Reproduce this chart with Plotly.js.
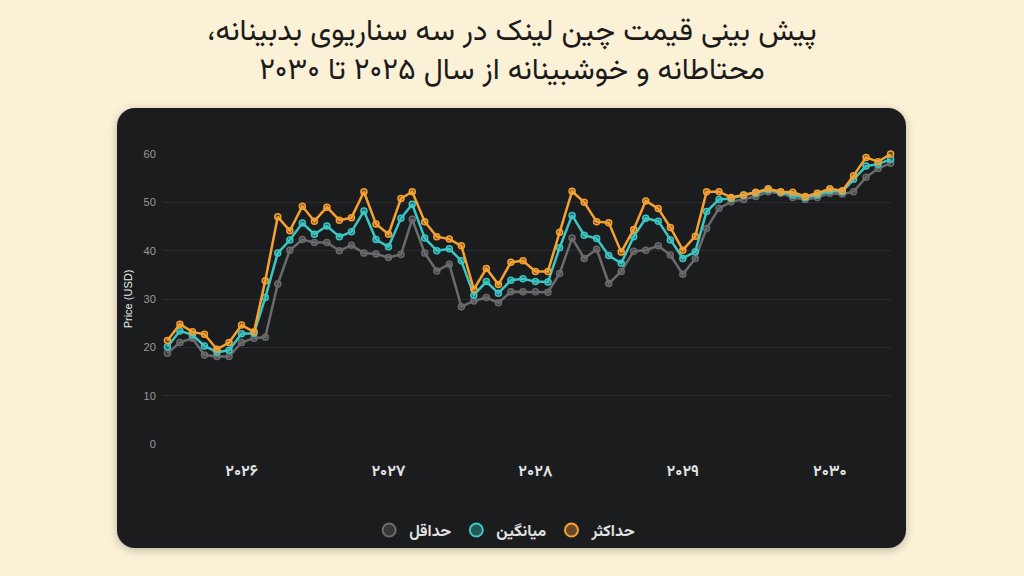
<!DOCTYPE html>
<html>
<head>
<meta charset="utf-8">
<script src="https://cdn.plot.ly/plotly-3.0.1.min.js"></script>
<style>
  html, body { margin: 0; padding: 0; background: #fbf1d6; }
  #wrap { position: relative; width: 1024px; height: 576px; }
  #card {
    position: absolute; left: 117px; top: 108px; width: 789px; height: 440px;
    background: #1b1c1e; border-radius: 18px;
    box-shadow: 0 2px 8px rgba(0,0,0,0.25);
  }
  #chart { position: absolute; left: 0; top: 0; width: 1024px; height: 576px; }
</style>
</head>
<body>
<div id="wrap">
  <div id="card"></div>
  <div id="chart"></div>
</div>
<script>
// monthly forecast, Jul 2025 - Jun 2030
var months = [];
for (let y = 2025; y <= 2030; y++) {
    for (let m = 1; m <= 12; m++) {
        if ((y == 2025 && m < 7) || (y == 2030 && m > 6)) continue;
        months.push(y + "-" + (m < 10 ? "0" + m : m) + "-01");
    }
}

var minPrice = [18.8, 21.0, 21.9, 18.4, 18.1, 18.1, 21.0, 21.9, 22.1, 33.1,
    40.1, 42.3, 41.7, 41.7, 40.0, 41.1, 39.5, 39.3, 38.6, 39.2,
    46.5, 39.5, 35.8, 37.2, 28.4, 29.6, 30.3, 29.2, 31.5, 31.5,
    31.5, 31.4, 35.3, 42.6, 38.4, 40.3, 33.2, 35.7, 39.9, 40.1,
    41.0, 39.1, 35.1, 38.4, 44.6, 48.8, 50.1, 50.6, 51.2, 52.2,
    51.9, 51.0, 50.6, 51.0, 51.9, 51.7, 52.2, 55.2, 57.0, 58.1];

var avgPrice = [20.1, 23.4, 22.6, 20.3, 19.0, 19.4, 22.8, 22.9, 30.3, 39.5,
    42.2, 45.7, 43.4, 45.1, 42.9, 43.9, 48.2, 42.3, 40.8, 46.7,
    49.6, 42.6, 40.0, 40.4, 37.9, 30.8, 33.6, 31.2, 33.9, 34.2,
    33.6, 33.5, 40.6, 47.3, 43.2, 42.5, 39.0, 37.4, 42.9, 46.7,
    46.1, 42.2, 38.4, 39.8, 48.1, 50.6, 50.8, 51.5, 51.9, 52.6,
    52.1, 51.5, 51.0, 51.5, 52.4, 52.2, 54.8, 57.5, 57.9, 58.9];

var maxPrice = [21.4, 24.8, 23.2, 22.7, 19.6, 21.0, 24.6, 23.2, 33.8, 47.0,
    44.1, 49.2, 46.1, 49.0, 46.3, 46.8, 52.2, 45.5, 43.4, 50.8,
    52.2, 46.0, 42.9, 42.4, 41.0, 32.0, 36.3, 33.0, 37.6, 37.9,
    35.7, 35.7, 43.8, 52.3, 50.0, 46.0, 45.8, 39.7, 44.4, 50.3,
    48.7, 44.8, 40.1, 43.0, 52.2, 52.2, 51.0, 51.5, 52.1, 52.8,
    52.2, 52.1, 51.2, 51.9, 52.8, 52.4, 55.5, 59.3, 58.4, 60.0];

var names = ["حداقل", "میانگین", "حداکثر"];
var colors = ["#6b6b6e", "#3cc6c4", "#f5a133"];
var fills = ["rgba(107,107,110,0.35)", "rgba(60,198,196,0.35)", "rgba(245,161,51,0.35)"];

var yearTicks = ["2026-01-01", "2027-01-01", "2028-01-01", "2029-01-01", "2030-01-01"];
var yearLabels = ["۲۰۲۶", "۲۰۲۷", "۲۰۲۸", "۲۰۲۹", "۲۰۳۰"];

var series = [minPrice, avgPrice, maxPrice];
var traces = [];

series.forEach(function (vals, i) {
    traces.push({
        x: months,
        y: vals,
        name: names[i],
        type: "scatter",
        mode: "lines+markers",
        line: {color: colors[i], width: 2.5},
        marker: {size: 6, color: fills[i], line: {color: colors[i], width: 1.5}},
        cliponaxis: false,
        showlegend: false
    });
});

// legend entries: circle only
series.forEach(function (vals, i) {
    traces.push({
        x: [null],
        y: [null],
        name: names[i],
        type: "scatter",
        mode: "markers",
        marker: {size: 13, color: fills[i], line: {color: colors[i], width: 2}},
        showlegend: true
    });
});

var persian = "Vazirmatn, 'Noto Sans Arabic', 'DejaVu Sans', sans-serif";

var layout = {
    width: 1024,
    height: 576,
    paper_bgcolor: "rgba(0,0,0,0)",
    plot_bgcolor: "rgba(0,0,0,0)",
    margin: {l: 163, r: 133, t: 154, b: 132},
    title: {
        // RLM after the comma keeps it at the left end of the RTL line
        text: "\u200Fپیش بینی قیمت چین لینک در سه سناریوی بدبینانه،\u200F<br>\u200Fمحتاطانه و خوشبینانه از سال ۲۰۲۵ تا ۲۰۳۰\u200F",
        x: 0.5,
        xanchor: "center",
        y: 0.93,
        yanchor: "middle",
        font: {family: persian, size: 30, color: "#1b1b1b"}
    },
    xaxis: {
        type: "date",
        range: ["2025-06-20", "2030-06-02"],
        tickvals: yearTicks,
        ticktext: yearLabels,
        ticks: "outside",
        ticklen: 12,
        tickcolor: "rgba(0,0,0,0)",
        tickfont: {family: persian, size: 16, color: "#e2e2e2", weight: "bold"},
        showgrid: false,
        zeroline: false,
        showline: false
    },
    yaxis: {
        range: [0, 60],
        tickvals: [0, 10, 20, 30, 40, 50, 60],
        tickfont: {family: "Liberation Sans, Arial, sans-serif", size: 11, color: "#9a9a9a"},
        gridcolor: "#2a2b2e",
        gridwidth: 1,
        zeroline: false,
        showline: false,
        ticks: "outside",
        ticklen: 4,
        tickcolor: "rgba(0,0,0,0)",
        title: {
            text: "Price (USD)",
            standoff: 8,
            font: {family: "Liberation Sans, Arial, sans-serif", size: 11, color: "#e8e8e8"}
        }
    },
    legend: {
        orientation: "h",
        x: 0.47,
        xanchor: "center",
        y: -0.297,
        yanchor: "middle",
        font: {family: persian, size: 16, color: "#e2e2e2", weight: "bold"},
        itemwidth: 30,
        bgcolor: "rgba(0,0,0,0)"
    },
    hovermode: false
};

Plotly.newPlot("chart", traces, layout, {displayModeBar: false, staticPlot: true});
</script>
</body>
</html>
